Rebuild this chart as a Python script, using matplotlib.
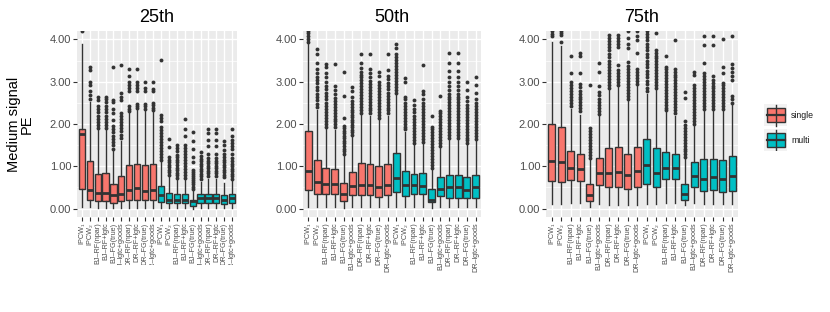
import numpy as np
import matplotlib.pyplot as plt
from matplotlib.patches import Rectangle
from matplotlib.transforms import Bbox, TransformedBbox

plt.rcParams['font.family'] = ['Liberation Sans', 'DejaVu Sans']

# --- data ---
methods = ['IPCW\u2081', 'IPCW\u2082', 'BJ\u2013RF(npar)', 'BJ\u2013RF+lgtc', 'BJ\u2013FG(true)',
           'BJ\u2013lgtc+goods', 'DR\u2013RF(npar)', 'DR\u2013RF+lgtc', 'DR\u2013FG(true)', 'DR\u2013lgtc+goods']
groups = ['single', 'multi']
panel_titles = ['25th', '50th', '75th']

# 25th percentile panel (10 single followed by 10 multi)
q1_25 = [0.46, 0.20, 0.17, 0.17, 0.13, 0.17, 0.20, 0.20, 0.20, 0.20,
         0.16, 0.12, 0.12, 0.12, 0.06, 0.12, 0.12, 0.12, 0.11, 0.12]
med_25 = [1.77, 0.45, 0.37, 0.37, 0.31, 0.35, 0.45, 0.49, 0.42, 0.43,
          0.31, 0.21, 0.20, 0.21, 0.17, 0.24, 0.24, 0.24, 0.21, 0.24]
q3_25 = [1.89, 1.13, 0.82, 0.84, 0.59, 0.76, 1.04, 1.06, 1.04, 1.06,
         0.53, 0.37, 0.35, 0.35, 0.21, 0.35, 0.35, 0.35, 0.31, 0.35]
lo_25 = [0.04, 0.03, 0.02, 0.02, 0.02, 0.02, 0.02, 0.02, 0.02, 0.02,
         0.02, 0.01, 0.01, 0.01, 0.00, 0.01, 0.01, 0.01, 0.01, 0.01]
hi_25 = [3.90, 2.52, 1.85, 1.87, 1.35, 1.60, 2.26, 2.35, 2.30, 2.30,
         1.10, 0.76, 0.70, 0.70, 0.43, 0.63, 0.70, 0.70, 0.60, 0.65]
out_25 = [
    [4.19],
    [2.6, 2.68, 2.77, 2.92, 3.0, 3.28, 3.36],
    [1.9, 1.97, 2.05, 2.12, 2.2, 2.28, 2.35, 2.43, 2.56, 2.65],
    [1.9, 1.97, 2.05, 2.12, 2.2, 2.28, 2.35, 2.43, 2.52, 2.58, 2.65],
    [1.42, 1.5, 1.58, 1.65, 1.72, 1.8, 1.88, 1.95, 2.1, 2.26, 2.35, 2.51, 2.57, 3.34],
    [1.68, 1.75, 1.83, 1.9, 1.98, 2.05, 2.13, 2.2, 2.26, 2.57, 2.65, 2.73, 3.39],
    [2.3, 2.36, 2.42, 2.77, 2.85, 2.92, 3.0, 3.13, 3.3],
    [2.38, 2.43, 2.48, 2.77, 2.85, 2.92, 3.0, 3.3],
    [2.36, 2.42, 2.48, 2.77, 2.85, 3.0],
    [2.32, 2.38, 2.44, 2.5, 2.77, 2.83, 3.0],
    [1.15, 1.22, 1.29, 1.36, 1.43, 1.5, 1.57, 1.64, 1.71, 1.78, 1.85, 1.93, 2.06, 2.14, 2.22, 3.52],
    [0.8, 0.86, 0.92, 0.98, 1.04, 1.1, 1.16, 1.22, 1.45, 1.65],
    [0.73, 0.79, 0.85, 0.91, 0.97, 1.03, 1.09, 1.15, 1.21, 1.27, 1.35, 1.43, 1.51],
    [0.73, 0.8, 0.87, 0.94, 1.01, 1.08, 1.15, 1.22, 1.29, 1.36, 1.43, 1.5, 1.71, 1.87, 2.12],
    [0.47, 0.52, 0.57, 0.62, 0.67, 0.72, 0.77, 0.82, 0.87, 0.92, 1.1, 1.22, 1.42, 1.59, 1.8],
    [0.7, 0.76, 0.82, 0.88, 0.94, 1.0, 1.06, 1.12, 1.18, 1.24, 1.33],
    [0.77, 0.83, 0.89, 0.95, 1.01, 1.07, 1.13, 1.19, 1.3, 1.47, 1.63, 1.79, 1.88],
    [0.77, 0.83, 0.89, 0.95, 1.01, 1.07, 1.13, 1.19, 1.3, 1.47, 1.63, 1.79, 1.88],
    [0.74, 0.8, 0.86, 0.92, 0.98, 1.04, 1.1, 1.16, 1.22, 1.3, 1.39, 1.51, 1.59],
    [0.7, 0.76, 0.82, 0.88, 0.94, 1.0, 1.06, 1.12, 1.2, 1.3, 1.4, 1.47, 1.55, 1.63, 1.71, 1.87],
]

# 50th percentile panel
q1_50 = [0.45, 0.35, 0.35, 0.35, 0.18, 0.32, 0.31, 0.31, 0.28, 0.31,
         0.39, 0.29, 0.35, 0.35, 0.15, 0.29, 0.25, 0.25, 0.25, 0.25]
med_50 = [0.90, 0.63, 0.58, 0.58, 0.35, 0.53, 0.56, 0.55, 0.51, 0.56,
          0.73, 0.56, 0.55, 0.54, 0.21, 0.46, 0.51, 0.51, 0.45, 0.51]
q3_50 = [1.84, 1.14, 0.96, 0.94, 0.61, 0.87, 1.07, 1.05, 1.01, 1.05,
         1.31, 0.90, 0.82, 0.83, 0.46, 0.75, 0.80, 0.80, 0.75, 0.80]
lo_50 = [0.03, 0.03, 0.03, 0.03, 0.02, 0.03, 0.03, 0.03, 0.03, 0.03,
         0.04, 0.03, 0.04, 0.04, 0.02, 0.04, 0.03, 0.03, 0.03, 0.03]
hi_50 = [3.90, 2.34, 1.88, 1.86, 1.26, 1.70, 2.21, 2.20, 2.10, 2.20,
         2.69, 1.82, 1.53, 1.55, 0.93, 1.44, 1.63, 1.63, 1.50, 1.62]
out_50 = [
    [3.95, 4.02, 4.08, 4.15, 4.2],
    [2.4, 2.48, 2.56, 2.64, 2.72, 2.8, 2.88, 2.96, 3.04, 3.12, 3.2, 3.3, 3.44, 3.66, 3.78],
    [1.93, 2.0, 2.07, 2.14, 2.21, 2.28, 2.35, 2.42, 2.5, 2.58, 2.66, 2.74, 2.82, 2.9, 3.0, 3.1, 3.2, 3.36, 3.43],
    [1.92, 1.99, 2.06, 2.13, 2.2, 2.27, 2.34, 2.41, 2.48, 2.55, 2.62, 2.7, 2.8, 2.9, 3.43],
    [1.3, 1.36, 1.42, 1.48, 1.54, 1.6, 1.66, 1.72, 1.78, 1.84, 1.9, 1.96, 2.14, 2.67, 3.23],
    [1.74, 1.8, 1.86, 1.92, 1.98, 2.04, 2.1, 2.16, 2.22, 2.28, 2.34, 2.4, 2.47, 2.55, 2.65, 2.77, 2.87],
    [2.26, 2.33, 2.4, 2.47, 2.54, 2.61, 2.68, 2.75, 2.82, 2.89, 2.96, 3.03, 3.1, 3.17, 3.24, 3.32, 3.44, 3.65],
    [2.25, 2.32, 2.39, 2.46, 2.53, 2.6, 2.67, 2.74, 2.81, 2.88, 2.95, 3.02, 3.1, 3.2, 3.3, 3.65],
    [2.14, 2.21, 2.28, 2.35, 2.42, 2.49, 2.56, 2.63, 2.7, 2.77, 2.84, 2.92, 2.99, 3.13, 3.24],
    [2.25, 2.32, 2.39, 2.46, 2.53, 2.6, 2.67, 2.74, 2.82, 2.9, 2.98, 3.06, 3.13, 3.28, 3.65],
    [2.74, 2.81, 2.88, 2.95, 3.02, 3.09, 3.16, 3.23, 3.3, 3.37, 3.44, 3.51, 3.58, 3.65, 3.8, 3.9],
    [1.87, 1.94, 2.01, 2.08, 2.15, 2.22, 2.29, 2.36, 2.43, 2.5, 2.58, 2.65, 3.0, 3.09],
    [1.56, 1.63, 1.7, 1.77, 1.84, 1.91, 1.98, 2.05, 2.12, 2.2, 2.28, 2.36, 2.46, 2.56],
    [1.58, 1.65, 1.72, 1.79, 1.86, 1.93, 2.0, 2.07, 2.14, 2.21, 2.28, 2.35, 2.42, 2.5, 2.6, 2.7, 2.79, 3.39],
    [0.96, 1.03, 1.1, 1.17, 1.24, 1.31, 1.38, 1.45, 1.52, 1.59, 1.66, 1.73, 1.8, 1.87, 1.94, 2.2],
    [1.48, 1.55, 1.62, 1.69, 1.76, 1.83, 1.9, 1.97, 2.04, 2.11, 2.18, 2.25, 2.3, 2.67],
    [1.67, 1.74, 1.81, 1.88, 1.95, 2.02, 2.09, 2.16, 2.23, 2.3, 2.37, 2.44, 2.51, 2.58, 2.65, 2.72, 2.8, 2.9, 3.0, 3.1, 3.25, 3.44, 3.68],
    [1.67, 1.74, 1.81, 1.88, 1.95, 2.02, 2.09, 2.16, 2.23, 2.3, 2.37, 2.44, 2.51, 2.58, 2.65, 2.72, 2.8, 2.9, 3.0, 3.1, 3.25, 3.44, 3.68],
    [1.54, 1.61, 1.68, 1.75, 1.82, 1.89, 1.96, 2.03, 2.1, 2.17, 2.24, 2.31, 2.38, 2.45, 2.55, 2.65, 2.81, 2.99],
    [1.65, 1.72, 1.79, 1.86, 1.93, 2.0, 2.07, 2.14, 2.21, 2.28, 2.35, 2.42, 2.5, 2.58, 2.73, 2.93, 3.11],
]

# 75th percentile panel
q1_75 = [0.66, 0.63, 0.68, 0.66, 0.18, 0.55, 0.50, 0.51, 0.46, 0.50,
         0.59, 0.51, 0.70, 0.69, 0.20, 0.51, 0.41, 0.43, 0.39, 0.41]
med_75 = [1.12, 1.10, 0.96, 0.94, 0.31, 0.83, 0.84, 0.86, 0.79, 0.88,
          1.02, 0.83, 0.96, 0.96, 0.35, 0.78, 0.70, 0.74, 0.69, 0.76]
q3_75 = [2.01, 1.94, 1.35, 1.28, 0.57, 1.20, 1.43, 1.46, 1.29, 1.46,
         1.65, 1.43, 1.33, 1.28, 0.59, 1.09, 1.17, 1.18, 1.16, 1.24]
lo_75 = [0.10, 0.10, 0.12, 0.12, 0.04, 0.10, 0.08, 0.08, 0.08, 0.08,
         0.10, 0.10, 0.14, 0.14, 0.08, 0.12, 0.10, 0.10, 0.10, 0.10]
hi_75 = [3.95, 3.85, 2.36, 2.21, 1.16, 2.18, 2.80, 2.88, 2.55, 2.90,
         2.70, 2.80, 2.28, 2.20, 1.18, 1.96, 2.31, 2.30, 2.32, 2.46]
out_75 = [
    [4.08, 4.14, 4.2],
    [3.95, 4.1, 4.15, 4.2],
    [2.42, 2.49, 2.56, 2.63, 2.7, 2.77, 2.84, 2.92, 3.0, 3.2, 3.6],
    [2.3, 2.37, 2.44, 2.51, 2.58, 2.65, 2.72, 2.79, 2.87, 2.95, 3.2, 3.6, 3.68],
    [1.2, 1.27, 1.34, 1.41, 1.48, 1.55, 1.62, 1.69, 1.76, 1.83, 1.9, 2.93],
    [2.24, 2.31, 2.38, 2.45, 2.52, 2.6, 2.68, 2.76, 2.89, 3.22, 3.44],
    [2.86, 2.93, 3.0, 3.07, 3.14, 3.21, 3.28, 3.35, 3.42, 3.5, 3.58, 3.66, 3.74, 3.82, 3.9, 3.97, 4.04, 4.11],
    [2.92, 2.99, 3.06, 3.13, 3.2, 3.28, 3.4, 3.83, 3.9, 3.97, 4.04, 4.11],
    [2.6, 2.67, 2.74, 2.81, 2.88, 2.95, 3.02, 3.09, 3.16, 3.23, 3.3, 3.38, 3.46, 3.8, 3.9, 4.03, 4.19],
    [2.95, 3.02, 3.09, 3.16, 3.23, 3.3, 3.68, 3.99, 4.09, 4.19],
    [2.78, 2.86, 2.94, 3.02, 3.1, 3.18, 3.26, 3.34, 3.42, 3.5, 3.58, 3.66, 3.74, 3.82, 3.9, 3.98, 4.06, 4.14, 4.2],
    [2.85, 2.92, 2.99, 3.06, 3.13, 3.2, 3.27, 3.34, 3.41, 3.48, 3.55, 3.62, 3.68, 3.75, 4.15],
    [2.32, 2.39, 2.46, 2.53, 2.6, 2.67, 2.74, 2.81, 2.88, 2.95, 3.02, 3.09, 3.16, 3.23, 3.3, 3.36, 3.6],
    [2.26, 2.33, 2.4, 2.47, 2.54, 2.61, 2.68, 2.75, 2.82, 2.89, 2.96, 3.03, 3.1, 3.17, 3.24, 3.31, 3.98],
    [1.21, 1.28, 1.35, 1.42, 1.49, 1.56, 1.63, 1.7, 1.77, 1.84, 1.91, 1.98, 2.06, 2.61, 2.75],
    [2.0, 2.07, 2.14, 2.21, 2.28, 2.35, 2.42, 2.49, 2.56, 2.63, 2.7, 2.77, 2.84, 2.93, 3.16, 3.24],
    [2.36, 2.43, 2.5, 2.57, 2.64, 2.71, 2.78, 2.85, 2.92, 2.99, 3.06, 3.13, 3.2, 3.44, 3.87, 4.09],
    [2.35, 2.42, 2.49, 2.56, 2.63, 2.7, 2.77, 2.84, 2.91, 2.98, 3.05, 3.13, 3.87, 4.09],
    [2.36, 2.43, 2.5, 2.57, 2.64, 2.71, 2.78, 2.85, 2.92, 2.97, 3.2, 3.36, 4.0],
    [2.5, 2.58, 2.66, 3.05, 3.13, 3.22, 3.32, 3.41, 4.09],
]

# --- layout helpers (pixel positions in an 830x312 figure) ---
W, H = 830, 312
fig = plt.figure(figsize=(W / 100, H / 100), dpi=100)


def px_axes(left, top, right, bottom):
    return fig.add_axes([left / W, 1 - bottom / H, (right - left) / W, (bottom - top) / H])


group_colors = {'single': '#F8766D', 'multi': '#00BFC4'}
edge = '#333333'
panel_px = [(77, 237), (303, 481), (546, 738)]
panel_data = [
    (q1_25, med_25, q3_25, lo_25, hi_25, out_25),
    (q1_50, med_50, q3_50, lo_50, hi_50, out_50),
    (q1_75, med_75, q3_75, lo_75, hi_75, out_75),
]
labels = methods * len(groups)
box_colors = [group_colors[g] for g in groups for _ in methods]

for idx, ((left, right), title, (q1, med, q3, lo, hi, out)) in enumerate(
        zip(panel_px, panel_titles, panel_data)):
    ax = px_axes(left, 31, right, 217)
    stats = [dict(q1=a, med=b, q3=c, whislo=d, whishi=e, fliers=f)
             for a, b, c, d, e, f in zip(q1, med, q3, lo, hi, out)]
    pos = np.arange(len(stats))
    bp = ax.bxp(stats, positions=pos, widths=0.78, patch_artist=True, showcaps=False,
                boxprops=dict(edgecolor=edge, linewidth=1.0),
                medianprops=dict(color=edge, linewidth=2.0),
                whiskerprops=dict(color=edge, linewidth=1.0),
                flierprops=dict(marker='o', markersize=2.8, markerfacecolor=edge,
                                markeredgecolor='none'))
    for patch, c in zip(bp['boxes'], box_colors):
        patch.set_facecolor(c)

    ax.set_xlim(-0.6, len(stats) - 0.4)
    ax.set_ylim(-0.2, 4.2)
    ax.set_facecolor('#EBEBEB')
    for s in ax.spines.values():
        s.set_visible(False)
    ax.set_yticks([0, 1, 2, 3, 4])
    ax.set_yticklabels(['0.00', '1.00', '2.00', '3.00', '4.00'])
    ax.set_yticks([0.5, 1.5, 2.5, 3.5], minor=True)
    ax.grid(which='major', color='white', linewidth=1.0)
    ax.grid(which='minor', axis='y', color='white', linewidth=0.5)
    ax.set_axisbelow(True)
    ax.tick_params(which='minor', length=0)
    ax.tick_params(which='major', length=2.6, width=0.8, color=edge,
                   labelcolor='#4D4D4D', pad=1.5)
    ax.tick_params(axis='y', labelsize=8)
    ax.set_xticks(pos)
    ax.set_xticklabels(labels, rotation=90, fontsize=5.2, ha='center', va='top')
    ax.set_title(title, fontsize=13, pad=6.5)

    if idx == 0:
        # the first panel's tick labels are cut off at the bottom in the original
        clip = TransformedBbox(Bbox.from_extents(0, 1 - 265 / H, 1, 1), fig.transFigure)
        for t in ax.get_xticklabels():
            t.set_clip_box(clip)
            t.set_clip_on(True)

fig.text(20 / W, 1 - 124 / H, 'Medium signal\nPE', rotation=90, ha='center', va='center',
         fontsize=10.5, linespacing=0.9, multialignment='center')

# legend drawn by hand to look like ggplot keys
lax = px_axes(764, 104, 787, 151)
lax.set_xlim(764, 787)
lax.set_ylim(151, 104)
lax.axis('off')
for top, g in zip([104, 129], groups):
    lax.add_patch(Rectangle((764, top), 23, 22, facecolor='#F2F2F2', edgecolor='none'))
    lax.plot([775.5, 775.5], [top + 0.5, top + 21.5], color=edge, linewidth=1.0)
    lax.add_patch(Rectangle((766.5, top + 4.3), 18.5, 13.4, facecolor=group_colors[g],
                            edgecolor=edge, linewidth=1.0))
    lax.plot([766.5, 785], [top + 11, top + 11], color=edge, linewidth=1.6)
    lax.text(791, top + 11, g, ha='left', va='center', fontsize=6.3, color='#1A1A1A',
             clip_on=False)

fig.savefig('out.png', dpi=100)
